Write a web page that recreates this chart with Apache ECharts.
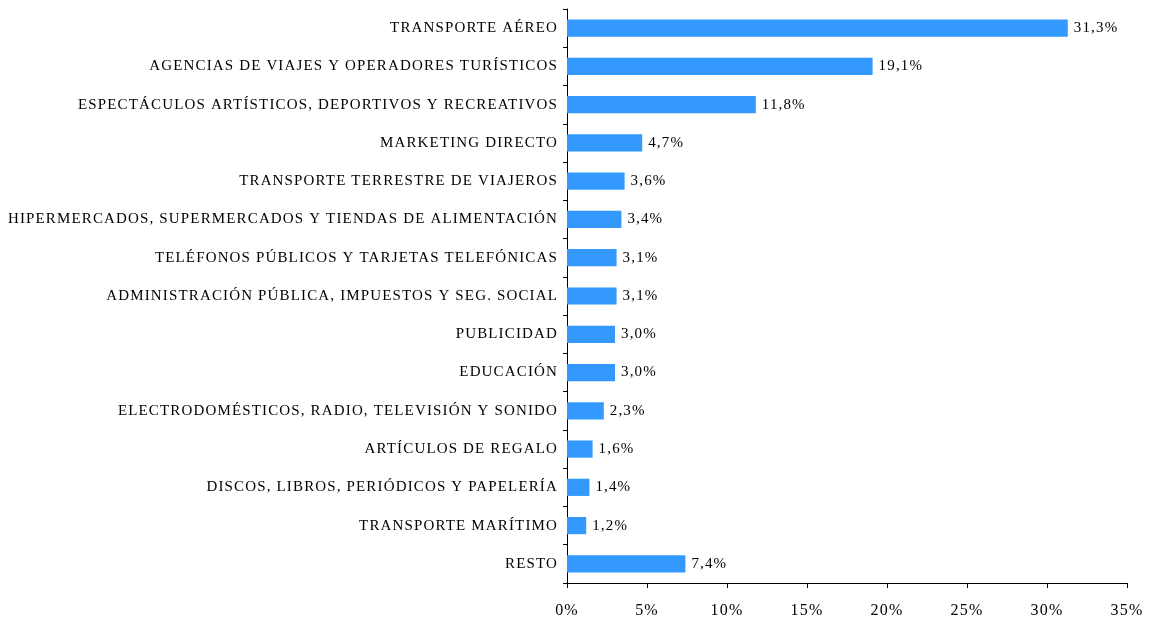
<!DOCTYPE html>
<html>
<head>
<meta charset="utf-8">
<script src="https://cdn.jsdelivr.net/npm/echarts@6/dist/echarts.min.js"></script>
<style>
  html, body { margin: 0; padding: 0; background: #fff; }
  #chart { width: 1155px; height: 623px; }
</style>
</head>
<body>
<div id="chart"></div>
<script>
// categorías, de arriba a abajo
const categorias = [
  "TRANSPORTE AÉREO",
  "AGENCIAS DE VIAJES Y OPERADORES TURÍSTICOS",
  "ESPECTÁCULOS ARTÍSTICOS, DEPORTIVOS Y RECREATIVOS",
  "MARKETING DIRECTO",
  "TRANSPORTE TERRESTRE DE VIAJEROS",
  "HIPERMERCADOS, SUPERMERCADOS Y TIENDAS DE ALIMENTACIÓN",
  "TELÉFONOS PÚBLICOS Y TARJETAS TELEFÓNICAS",
  "ADMINISTRACIÓN PÚBLICA, IMPUESTOS Y SEG. SOCIAL",
  "PUBLICIDAD",
  "EDUCACIÓN",
  "ELECTRODOMÉSTICOS, RADIO, TELEVISIÓN Y SONIDO",
  "ARTÍCULOS DE REGALO",
  "DISCOS, LIBROS, PERIÓDICOS Y PAPELERÍA",
  "TRANSPORTE MARÍTIMO",
  "RESTO"
];
const porcentajes = [31.3, 19.1, 11.8, 4.7, 3.6, 3.4, 3.1, 3.1, 3.0, 3.0, 2.3, 1.6, 1.4, 1.2, 7.4];

const FONT = '"Liberation Serif", "Times New Roman", serif';

// el texto del original va más espaciado: el canvas aplica letterSpacing
// cada vez que zrender cambia la fuente (también al medir)
const fontDesc = Object.getOwnPropertyDescriptor(CanvasRenderingContext2D.prototype, "font");
Object.defineProperty(CanvasRenderingContext2D.prototype, "font", {
  configurable: true,
  get() { return fontDesc.get.call(this); },
  set(v) {
    fontDesc.set.call(this, v);
    this.letterSpacing = "1.15px";
  }
});

const chart = echarts.init(document.getElementById("chart"));

chart.setOption({
  animation: false,
  grid: { left: 567, right: 28, top: 9, bottom: 40, containLabel: false },
  xAxis: {
    type: "value",
    min: 0,
    max: 35,
    interval: 5,
    splitLine: { show: false },
    axisLine: { show: true, lineStyle: { color: "#000", width: 1 } },
    axisTick: { show: true, length: 5, lineStyle: { color: "#000" } },
    axisLabel: {
      color: "#000",
      fontFamily: FONT,
      fontSize: 16,
      margin: 19,
      formatter: (v) => v + "%"
    }
  },
  yAxis: {
    type: "category",
    inverse: true,
    data: categorias,
    axisLine: { show: true, lineStyle: { color: "#000", width: 1 } },
    axisTick: { show: true, length: 4, lineStyle: { color: "#000" } },
    axisLabel: {
      color: "#000",
      fontFamily: FONT,
      fontSize: 15,
      margin: 9
    }
  },
  series: [
    {
      type: "bar",
      data: porcentajes,
      barWidth: "45%",
      itemStyle: { color: "#3399FF" },
      label: {
        show: true,
        position: "right",
        distance: 6,
        color: "#000",
        fontFamily: FONT,
        fontSize: 15,
        formatter: (p) => p.value.toFixed(1).replace(".", ",") + "%"
      }
    }
  ]
});
</script>
</body>
</html>
